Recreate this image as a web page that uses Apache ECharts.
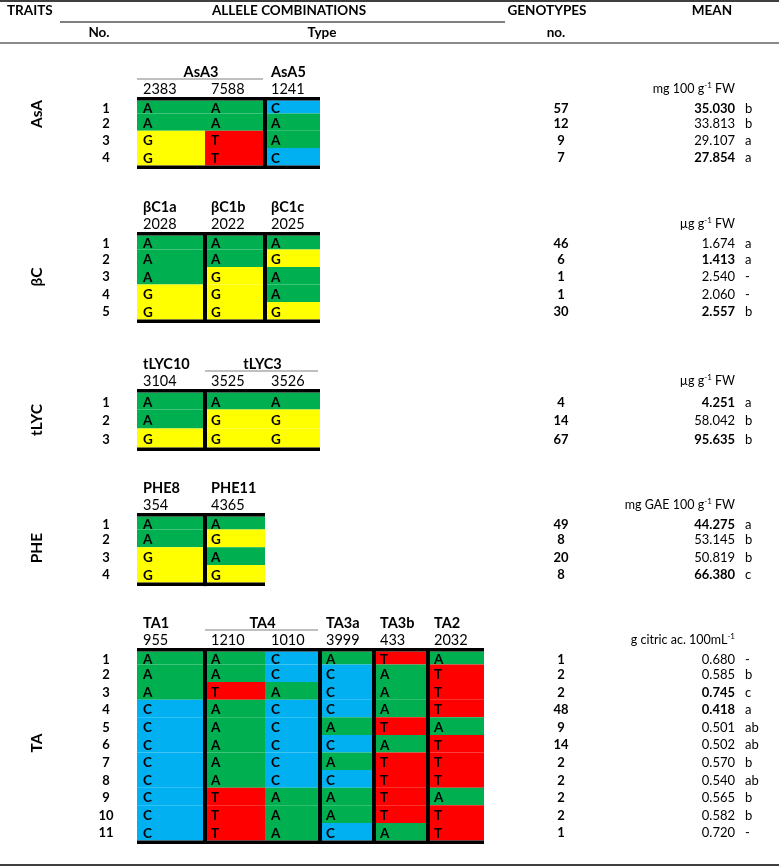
<!DOCTYPE html>
<html>
<head>
<meta charset="utf-8">
<script src="https://cdn.jsdelivr.net/npm/echarts@6/dist/echarts.min.js"></script>
<style>
  html, body { margin: 0; padding: 0; background: #fff; }
  #chart { width: 779px; height: 866px; }
</style>
</head>
<body>
<div id="chart"></div>
<script>
// traits and units
var traits = ['AsA', 'βC', 'tLYC', 'PHE', 'TA'];
var unitMain = ['mg 100 g', 'µg g', 'µg g', 'mg GAE 100 g', 'g citric ac. 100mL'];
var unitTail = [' FW', ' FW', ' FW', ' FW', ''];

// AsA
var asaMarkers = ['AsA3', 'AsA3', 'AsA5'];
var asaSnps = ['2383', '7588', '1241'];
var asaAlleles = [['A', 'A', 'C'], ['A', 'A', 'A'], ['G', 'T', 'A'], ['G', 'T', 'C']];
var asaCounts = [57, 12, 9, 7];
var asaMeans = [35.030, 33.813, 29.107, 27.854];
var asaGroups = ['b', 'b', 'a', 'a'];
var asaBold = [1, 0, 0, 1];

// beta carotene
var bcMarkers = ['βC1a', 'βC1b', 'βC1c'];
var bcSnps = ['2028', '2022', '2025'];
var bcAlleles = [['A', 'A', 'A'], ['A', 'A', 'G'], ['A', 'G', 'A'], ['G', 'G', 'A'], ['G', 'G', 'G']];
var bcCounts = [46, 6, 1, 1, 30];
var bcMeans = [1.674, 1.413, 2.540, 2.060, 2.557];
var bcGroups = ['a', 'a', '-', '-', 'b'];
var bcBold = [0, 1, 0, 0, 1];

// lycopene
var lycMarkers = ['tLYC10', 'tLYC3', 'tLYC3'];
var lycSnps = ['3104', '3525', '3526'];
var lycAlleles = [['A', 'A', 'A'], ['A', 'G', 'G'], ['G', 'G', 'G']];
var lycCounts = [4, 14, 67];
var lycMeans = [4.251, 58.042, 95.635];
var lycGroups = ['a', 'b', 'b'];
var lycBold = [1, 0, 1];

// phenolics
var pheMarkers = ['PHE8', 'PHE11'];
var pheSnps = ['354', '4365'];
var pheAlleles = [['A', 'A'], ['A', 'G'], ['G', 'A'], ['G', 'G']];
var pheCounts = [49, 8, 20, 8];
var pheMeans = [44.275, 53.145, 50.819, 66.380];
var pheGroups = ['a', 'b', 'b', 'c'];
var pheBold = [1, 0, 0, 1];

// titratable acidity
var taMarkers = ['TA1', 'TA4', 'TA4', 'TA3a', 'TA3b', 'TA2'];
var taSnps = ['955', '1210', '1010', '3999', '433', '2032'];
var taAlleles = [
  ['A', 'A', 'C', 'A', 'T', 'A'],
  ['A', 'A', 'C', 'C', 'A', 'T'],
  ['A', 'T', 'A', 'C', 'A', 'T'],
  ['C', 'A', 'C', 'C', 'A', 'T'],
  ['C', 'A', 'C', 'A', 'T', 'A'],
  ['C', 'A', 'C', 'C', 'A', 'T'],
  ['C', 'A', 'C', 'A', 'T', 'T'],
  ['C', 'A', 'C', 'C', 'T', 'T'],
  ['C', 'T', 'A', 'A', 'T', 'A'],
  ['C', 'T', 'A', 'A', 'T', 'T'],
  ['C', 'T', 'A', 'C', 'A', 'T']
];
var taCounts = [1, 2, 2, 48, 9, 14, 2, 2, 2, 2, 1];
var taMeans = [0.680, 0.585, 0.745, 0.418, 0.501, 0.502, 0.570, 0.540, 0.565, 0.582, 0.720];
var taGroups = ['-', 'b', 'c', 'a', 'ab', 'ab', 'b', 'ab', 'b', 'b', '-'];
var taBold = [0, 0, 1, 1, 0, 0, 0, 0, 0, 0, 0];

var alleleColors = { A: '#00B050', G: '#FFFF00', T: '#FF0000', C: '#00B0F0' };

// layout (pixel space of the hidden axes)
var colEdges = [137, 205, 265, 320, 374, 428, 484];
var tableTop = [97, 232, 389, 513, 648];
var firstRowH = [13, 14, 17, 13, 13];
var rowH = [17.3, 17.5, 19, 17.7, 17.6];
var traitLabelY = [114, 277, 420, 548, 743];
var barH = 3.5;
var FONT = 'Lato, "Open Sans", sans-serif';

var tables = [
  { markers: asaMarkers, snps: asaSnps, alleles: asaAlleles, counts: asaCounts, means: asaMeans, groups: asaGroups, bold: asaBold },
  { markers: bcMarkers, snps: bcSnps, alleles: bcAlleles, counts: bcCounts, means: bcMeans, groups: bcGroups, bold: bcBold },
  { markers: lycMarkers, snps: lycSnps, alleles: lycAlleles, counts: lycCounts, means: lycMeans, groups: lycGroups, bold: lycBold },
  { markers: pheMarkers, snps: pheSnps, alleles: pheAlleles, counts: pheCounts, means: pheMeans, groups: pheGroups, bold: pheBold },
  { markers: taMarkers, snps: taSnps, alleles: taAlleles, counts: taCounts, means: taMeans, groups: taGroups, bold: taBold }
];

function rowTop(t, r) {
  var y = tableTop[t] + barH;
  if (r === 0) return y;
  return y + firstRowH[t] + (r - 1) * rowH[t];
}

// flatten into series data
var cells = [], rows = [];
tables.forEach(function (tb, t) {
  tb.alleles.forEach(function (row, r) {
    rows.push({ t: t, r: r });
    row.forEach(function (a, c) {
      cells.push({ t: t, r: r, c: c, a: a });
    });
  });
});

function txt(x, y, text, font, align) {
  return {
    type: 'text',
    style: { text: text, x: x, y: y, font: font, fill: '#000', align: align || 'left', verticalAlign: 'middle' }
  };
}

function renderCell(params, api) {
  var cell = cells[params.dataIndex];
  var p0 = api.coord([colEdges[cell.c], rowTop(cell.t, cell.r)]);
  var p1 = api.coord([colEdges[cell.c + 1], rowTop(cell.t, cell.r + 1)]);
  return {
    type: 'group',
    children: [
      { type: 'rect', shape: { x: p0[0], y: p0[1], width: p1[0] - p0[0], height: p1[1] - p0[1] },
        style: { fill: alleleColors[cell.a] } },
      txt(p0[0] + 6, (p0[1] + p1[1]) / 2 + 1.5, cell.a, 'bold 13.5px ' + FONT)
    ]
  };
}

function renderRow(params, api) {
  var rw = rows[params.dataIndex];
  var tb = tables[rw.t];
  var y = (api.coord([0, rowTop(rw.t, rw.r)])[1] + api.coord([0, rowTop(rw.t, rw.r + 1)])[1]) / 2 + 1.5;
  return {
    type: 'group',
    children: [
      txt(api.coord([106, 0])[0], y, String(rw.r + 1), 'bold 13px ' + FONT, 'center'),
      txt(api.coord([561, 0])[0], y, String(tb.counts[rw.r]), 'bold 13px ' + FONT, 'center'),
      txt(api.coord([735, 0])[0], y, tb.means[rw.r].toFixed(3), (tb.bold[rw.r] ? 'bold ' : '') + '13px ' + FONT, 'right'),
      txt(api.coord([745, 0])[0], y, tb.groups[rw.r], '13px ' + FONT, 'left')
    ]
  };
}

function renderHead(params, api) {
  var t = params.dataIndex;
  var tb = tables[t];
  var n = tb.markers.length;
  var top = tableTop[t];
  var bottom = rowTop(t, tb.alleles.length);
  var kids = [];
  var pl = api.coord([colEdges[0], top]);
  var pr = api.coord([colEdges[n], bottom]);
  // top and bottom bars
  kids.push({ type: 'rect', shape: { x: pl[0], y: pl[1], width: pr[0] - pl[0], height: barH }, style: { fill: '#000' } });
  kids.push({ type: 'rect', shape: { x: pl[0], y: pr[1], width: pr[0] - pl[0], height: barH }, style: { fill: '#000' } });
  // marker headers, separators between markers
  var start = 0;
  for (var c = 0; c <= n; c++) {
    if (c === n || tb.markers[c] !== tb.markers[start]) {
      var xs = api.coord([colEdges[start], 0])[0];
      var xe = api.coord([colEdges[c], 0])[0];
      var yh = api.coord([0, top - 25])[1];
      if (c - start > 1) {
        kids.push(txt((xs + xe) / 2, yh, tb.markers[start], 'bold 14.5px ' + FONT, 'center'));
        var yl = api.coord([0, top - 18])[1];
        kids.push({ type: 'line', shape: { x1: xs, y1: yl, x2: xe - 2, y2: yl }, style: { stroke: '#808080', lineWidth: 1 } });
      } else {
        kids.push(txt(xs + 6, yh, tb.markers[start], 'bold 14.5px ' + FONT, 'left'));
      }
      if (c < n) {
        kids.push({ type: 'rect', shape: { x: xe - 2, y: pl[1], width: 4, height: pr[1] + barH - pl[1] }, style: { fill: '#000' } });
      }
      start = c;
    }
  }
  // SNP positions
  for (var k = 0; k < n; k++) {
    var p = api.coord([colEdges[k] + 6, top - 8]);
    kids.push(txt(p[0], p[1], tb.snps[k], '14.5px ' + FONT, 'left'));
  }
  // unit label with superscript
  var pu = api.coord([735, top - 8]);
  kids.push({
    type: 'text',
    style: {
      text: '{m|' + unitMain[t] + '}{s|-1}' + (unitTail[t] ? '{m|' + unitTail[t] + '}' : ''),
      x: pu[0], y: pu[1], align: 'right', verticalAlign: 'middle',
      rich: {
        m: { font: '12.5px ' + FONT, fill: '#000', lineHeight: 16 },
        s: { font: '8px ' + FONT, fill: '#000', lineHeight: 9, verticalAlign: 'top' }
      }
    }
  });
  // rotated trait label
  var pt = api.coord([37, traitLabelY[t]]);
  kids.push({
    type: 'text', x: pt[0], y: pt[1], rotation: Math.PI / 2,
    style: { text: traits[t], x: 0, y: 0, font: 'bold 15.5px ' + FONT, fill: '#000', align: 'center', verticalAlign: 'middle' }
  });
  return { type: 'group', children: kids };
}

var chart = echarts.init(document.getElementById('chart'), null, { renderer: 'canvas' });

var headFont = 'bold 13.5px ' + FONT;
var option = {
  animation: false,
  backgroundColor: '#fff',
  grid: { left: 0, right: 0, top: 0, bottom: 0 },
  xAxis: { type: 'value', min: 0, max: 779, show: false },
  yAxis: { type: 'value', min: 0, max: 866, inverse: true, show: false },
  graphic: [
    { type: 'line', shape: { x1: 0, y1: 1, x2: 779, y2: 1 }, style: { stroke: '#000', lineWidth: 1.5 } },
    { type: 'text', x: 7, y: 11, style: { text: 'TRAITS', font: headFont, fill: '#000', verticalAlign: 'middle' } },
    { type: 'text', x: 289, y: 11, style: { text: 'ALLELE COMBINATIONS', font: headFont, fill: '#000', align: 'center', verticalAlign: 'middle' } },
    { type: 'text', x: 547, y: 11, style: { text: 'GENOTYPES', font: headFont, fill: '#000', align: 'center', verticalAlign: 'middle' } },
    { type: 'text', x: 712, y: 11, style: { text: 'MEAN', font: headFont, fill: '#000', align: 'center', verticalAlign: 'middle' } },
    { type: 'line', shape: { x1: 60, y1: 22, x2: 505, y2: 22 }, style: { stroke: '#000', lineWidth: 1 } },
    { type: 'text', x: 99, y: 33, style: { text: 'No.', font: headFont, fill: '#000', align: 'center', verticalAlign: 'middle' } },
    { type: 'text', x: 322, y: 33, style: { text: 'Type', font: headFont, fill: '#000', align: 'center', verticalAlign: 'middle' } },
    { type: 'text', x: 556, y: 33, style: { text: 'no.', font: headFont, fill: '#000', align: 'center', verticalAlign: 'middle' } },
    { type: 'line', shape: { x1: 0, y1: 43, x2: 779, y2: 43 }, style: { stroke: '#8a8a8a', lineWidth: 2 } },
    { type: 'line', shape: { x1: 0, y1: 865, x2: 779, y2: 865 }, style: { stroke: '#000', lineWidth: 1.5 } }
  ],
  series: [
    { type: 'custom', name: 'cells', renderItem: renderCell, silent: true,
      data: cells.map(function (d) { return [colEdges[d.c], rowTop(d.t, d.r)]; }) },
    { type: 'custom', name: 'frames', renderItem: renderHead, silent: true,
      data: tables.map(function (d, t) { return [colEdges[0], tableTop[t]]; }) },
    { type: 'custom', name: 'rows', renderItem: renderRow, silent: true,
      data: rows.map(function (d) { return [0, rowTop(d.t, d.r)]; }) }
  ]
};
chart.setOption(option);
</script>
</body>
</html>
